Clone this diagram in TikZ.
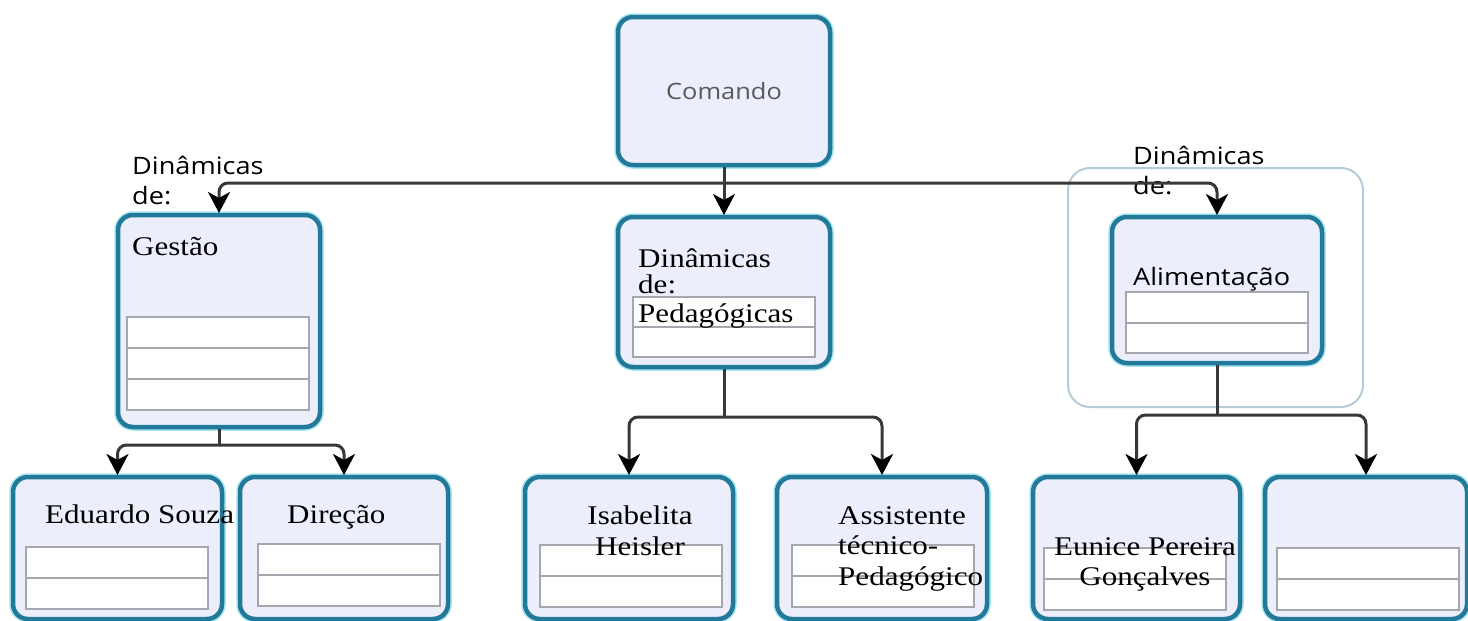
\documentclass[tikz,border=0pt]{standalone}
\usepackage{fontspec}
\setmainfont[FakeStretch=1.15]{Liberation Serif}
\setsansfont[FakeStretch=1.13]{Open Sans}
\usetikzlibrary{positioning,arrows.meta}

\definecolor{boxline}{HTML}{23799A}
\definecolor{boxglow}{HTML}{A8E6F2}
\definecolor{boxfill}{HTML}{ECEEFB}
\definecolor{slotline}{HTML}{A6A6AE}
\definecolor{wire}{HTML}{383838}
\definecolor{framegray}{HTML}{B4CCD6}
\newcommand\cardfont{\fontsize{27}{30.5}\selectfont}
\newcommand\tagfont{\sffamily\fontsize{24}{30}\selectfont}

\begin{document}
\begin{tikzpicture}[x=1pt,y=-1pt,
  card/.style={draw=boxline,line width=4.5pt,fill=boxfill,rounded corners=15pt,
    preaction={draw=boxglow,line width=7.5pt},inner sep=0pt,outer sep=2pt},
  slot/.style={draw=slotline,line width=2pt,fill=white,inner sep=0pt,outer sep=0pt,
    minimum width=182pt,minimum height=31pt,anchor=north},
  txt/.style={inner sep=0pt,anchor=base west,font=\cardfont},
  wire/.style={draw=wire,line width=3pt,rounded corners=9pt},
  link/.style={wire,-{Stealth[length=21pt,width=22pt,inset=6pt,color=black]}}]
  \useasboundingbox (0,0) rectangle (1468,621);

  % Comando
  \node[card,minimum width=212pt,minimum height=148pt,text=black!65,
    font=\sffamily\fontsize{22.5}{24}\selectfont] (cmd) at (724,91) {Comando};
  \coordinate (hub) at (724,183);

  % Gestao
  \node[txt,font=\tagfont,align=left] (gesttag) at (132,204) {Dinâmicas\\de:};
  \node[card,minimum width=202pt,minimum height=212pt] (gest) at (219,321) {};
  \node[txt] (gestname) at (132,255) {Gestão};
  \node[slot] (gest1) at (217.5,317) {};
  \node[slot,below=0pt of gest1] (gest2) {};
  \node[slot,below=0pt of gest2] (gest3) {};

  % Pedagogicas
  \node[card,minimum width=212pt,minimum height=150pt] (ped) at (724,292) {};
  \node[slot,minimum height=30pt] (ped1) at (724,297) {};
  \node[slot,minimum height=30pt,below=0pt of ped1] (ped2) {};
  \node[txt,align=left,font=\fontsize{27}{26}\selectfont] (pedtag) at (638,293) {Dinâmicas\\de:};
  \node[txt] (pedname) at (638,322) {Pedagógicas};

  % Alimentacao
  \node[draw=framegray,line width=2pt,rounded corners=22pt,minimum width=295pt,
    minimum height=239pt] (aliframe) at (1215.5,287.5) {};
  \node[txt,font=\tagfont,align=left] (alitag) at (1133,194) {Dinâmicas\\de:};
  \node[card,minimum width=210pt,minimum height=146pt] (ali) at (1217,290) {};
  \node[slot,minimum height=30.5pt] (ali1) at (1216.5,292) {};
  \node[slot,minimum height=30.5pt,below=0pt of ali1] (ali2) {};
  \node[txt,font=\tagfont] (aliname) at (1133,285) {Alimentação};

  % bottom row
  \node[card,minimum width=209pt,minimum height=142pt] (edu) at (117.5,548) {};
  \node[slot] (edu1) at (116.5,547) {};
  \node[slot,below=0pt of edu1] (edu2) {};
  \node[txt] (eduname) at (45,523) {Eduardo Souza};

  \node[card,minimum width=208pt,minimum height=142pt] (dir) at (344,548) {};
  \node[slot] (dir1) at (348.5,544) {};
  \node[slot,below=0pt of dir1] (dir2) {};
  \node[txt] (dirname) at (287,523) {Direção};

  \node[card,minimum width=208pt,minimum height=142pt] (isa) at (629,548) {};
  \node[slot] (isa1) at (630.5,545) {};
  \node[slot,below=0pt of isa1] (isa2) {};
  \node[txt,anchor=base,align=center,font=\fontsize{27}{31}\selectfont] (isaname) at (640,555) {Isabelita\\Heisler};

  \node[card,minimum width=210pt,minimum height=142pt] (ass) at (882,548) {};
  \node[slot] (ass1) at (882.5,545) {};
  \node[slot,below=0pt of ass1] (ass2) {};
  \node[txt,align=left] (assname) at (838,585) {Assistente\\técnico-\\Pedagógico};

  \node[card,minimum width=207pt,minimum height=142pt] (eun) at (1136.5,548) {};
  \node[slot] (eun1) at (1135,548) {};
  \node[slot,below=0pt of eun1] (eun2) {};
  \node[txt,anchor=base,align=center,font=\fontsize{27}{30}\selectfont] (eunname) at (1145,585) {Eunice Pereira\\Gonçalves};

  \node[card,minimum width=202pt,minimum height=142pt] (blank) at (1366,548) {};
  \node[slot] (blank1) at (1368,548) {};
  \node[slot,below=0pt of blank1] (blank2) {};

  % connectors
  \draw[link] (cmd.south) -- (ped.north);
  \draw[link] (hub) -| (gest.north);
  \draw[link] (hub) -| (ali.north);

  \coordinate (gestfork) at (219,445);
  \draw[wire] (gest.south) -- (gestfork);
  \draw[link] (gestfork) -| (edu.north);
  \draw[link] (gestfork) -| (dir.north);

  \coordinate (pedfork) at (724,417);
  \draw[wire] (ped.south) -- (pedfork);
  \draw[link] (pedfork) -| (isa.north);
  \draw[link] (pedfork) -| (ass.north);

  \coordinate (alifork) at (1217,415);
  \draw[wire] (ali.south) -- (alifork);
  \draw[link] (alifork) -| (eun.north);
  \draw[link] (alifork) -| (blank.north);
\end{tikzpicture}
\end{document}
